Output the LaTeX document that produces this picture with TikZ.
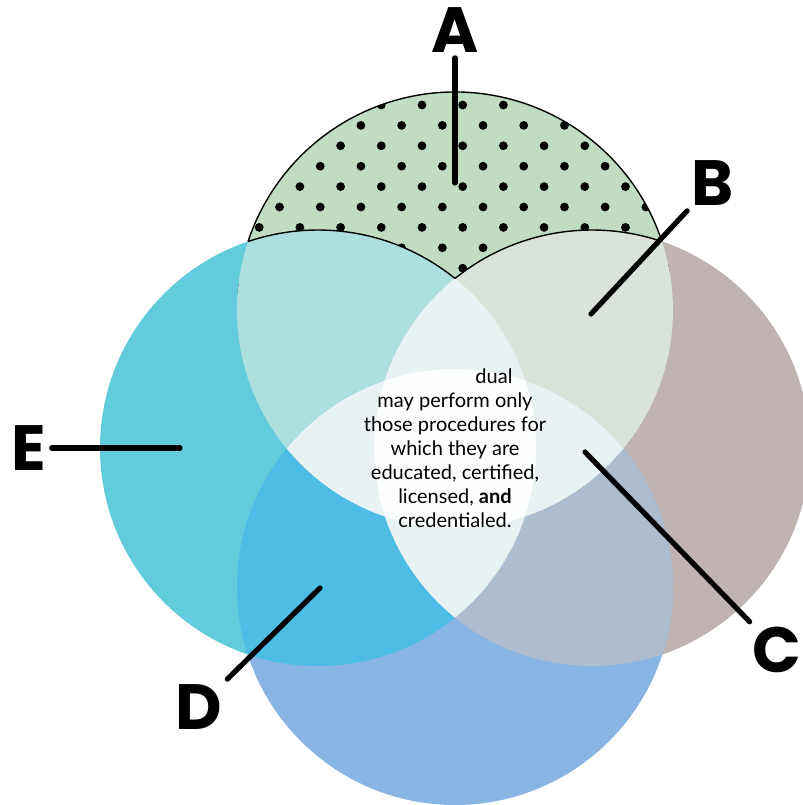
\documentclass[tikz,border=0pt]{standalone}
\usepackage{fontspec}
\setmainfont{Lato}
\newfontfamily\letterfont{Poppins}
\definecolor{greenA}{HTML}{C0DDC4}
\definecolor{greyB}{HTML}{BFB4B2}
\definecolor{blueD}{HTML}{88B5E3}
\definecolor{cyanE}{HTML}{62CBDC}
\definecolor{tealAE}{HTML}{AEDFDF}
\definecolor{mistAB}{HTML}{D9E3D9}
\definecolor{azureDE}{HTML}{4DBDE5}
\definecolor{slateCD}{HTML}{ADBCCE}
\definecolor{paleX}{HTML}{E8F2F2}
\definecolor{coreX}{HTML}{FDFEFE}
\def\circtop{(0,138) circle[radius=218]}
\def\circbot{(0,-139) circle[radius=218]}
\def\circleft{(-137,0) circle[radius=218]}
\def\circright{(137,0) circle[radius=218]}
\begin{document}
\begin{tikzpicture}[x=0.5pt, y=0.5pt,
	letter/.style={font=\letterfont\bfseries\fontsize{32}{32}\selectfont, inner sep=2.5pt},
	pointer/.style={line width=2.6pt, line cap=round},
	rim/.style={line width=0.7pt}]
	\useasboundingbox (-455,-357) rectangle (348,448);
	% Circles:
	\fill[greenA] \circtop;
	\fill[greyB] \circright;
	\fill[blueD] \circbot;
	\fill[cyanE] \circleft;
	\begin{scope}
		\clip \circtop;
		\foreach \k in {0,...,9}
			\foreach \m in {-7,...,7}
				\fill ({7.7+40.7*\m-20.35*mod(\k,2)}, {343-20.4*\k}) circle[radius=4.4];
	\end{scope}
	% Overlaps:
	\begin{scope}
		\clip \circtop;
		\fill[tealAE] \circleft;
		\fill[mistAB] \circright;
	\end{scope}
	\begin{scope}
		\clip \circbot;
		\fill[azureDE] \circleft;
		\fill[slateCD] \circright;
	\end{scope}
	\begin{scope}
		\clip \circleft;
		\fill[paleX] \circright;
	\end{scope}
	\begin{scope}
		\clip \circtop;
		\fill[paleX] \circbot;
	\end{scope}
	\begin{scope}
		\clip \circleft; \clip \circright; \clip \circtop;
		\fill[coreX] \circbot;
	\end{scope}
	\draw[rim] (0,138) ++(18.3:218) arc[start angle=18.3, end angle=161.7, radius=218];
	\draw[rim] (-137,0) ++(51.07:218) arc[start angle=51.07, end angle=108.7, radius=218];
	\draw[rim] (137,0) ++(71.3:218) arc[start angle=71.3, end angle=128.93, radius=218];
	% Text and labels:
	\node[align=center, font=\fontsize{10}{12}\selectfont] (txt) at (0,0) {\hspace*{39pt}dual\\may perform only\\those procedures for\\which they are\\educated, certified,\\licensed, \textbf{and}\\credentialed.};
	\node[letter] (la) at (0,418) {A};
	\node[letter] (lb) at (258,265) {B};
	\node[letter] (lc) at (322,-202) {C};
	\node[letter] (ld) at (-256,-259) {D};
	\node[letter] (le) at (-426,0) {E};
	\coordinate (pa) at (0,265);
	\coordinate (pb) at (136,134);
	\coordinate (pc) at (130,-4);
	\coordinate (pd) at (-135,-140);
	\coordinate (pe) at (-275,0);
	\draw[pointer] (la) -- (pa);
	\draw[pointer] (lb) -- (pb);
	\draw[pointer] (lc) -- (pc);
	\draw[pointer] (ld) -- (pd);
	\draw[pointer] (le) -- (pe);
\end{tikzpicture}
\end{document}
